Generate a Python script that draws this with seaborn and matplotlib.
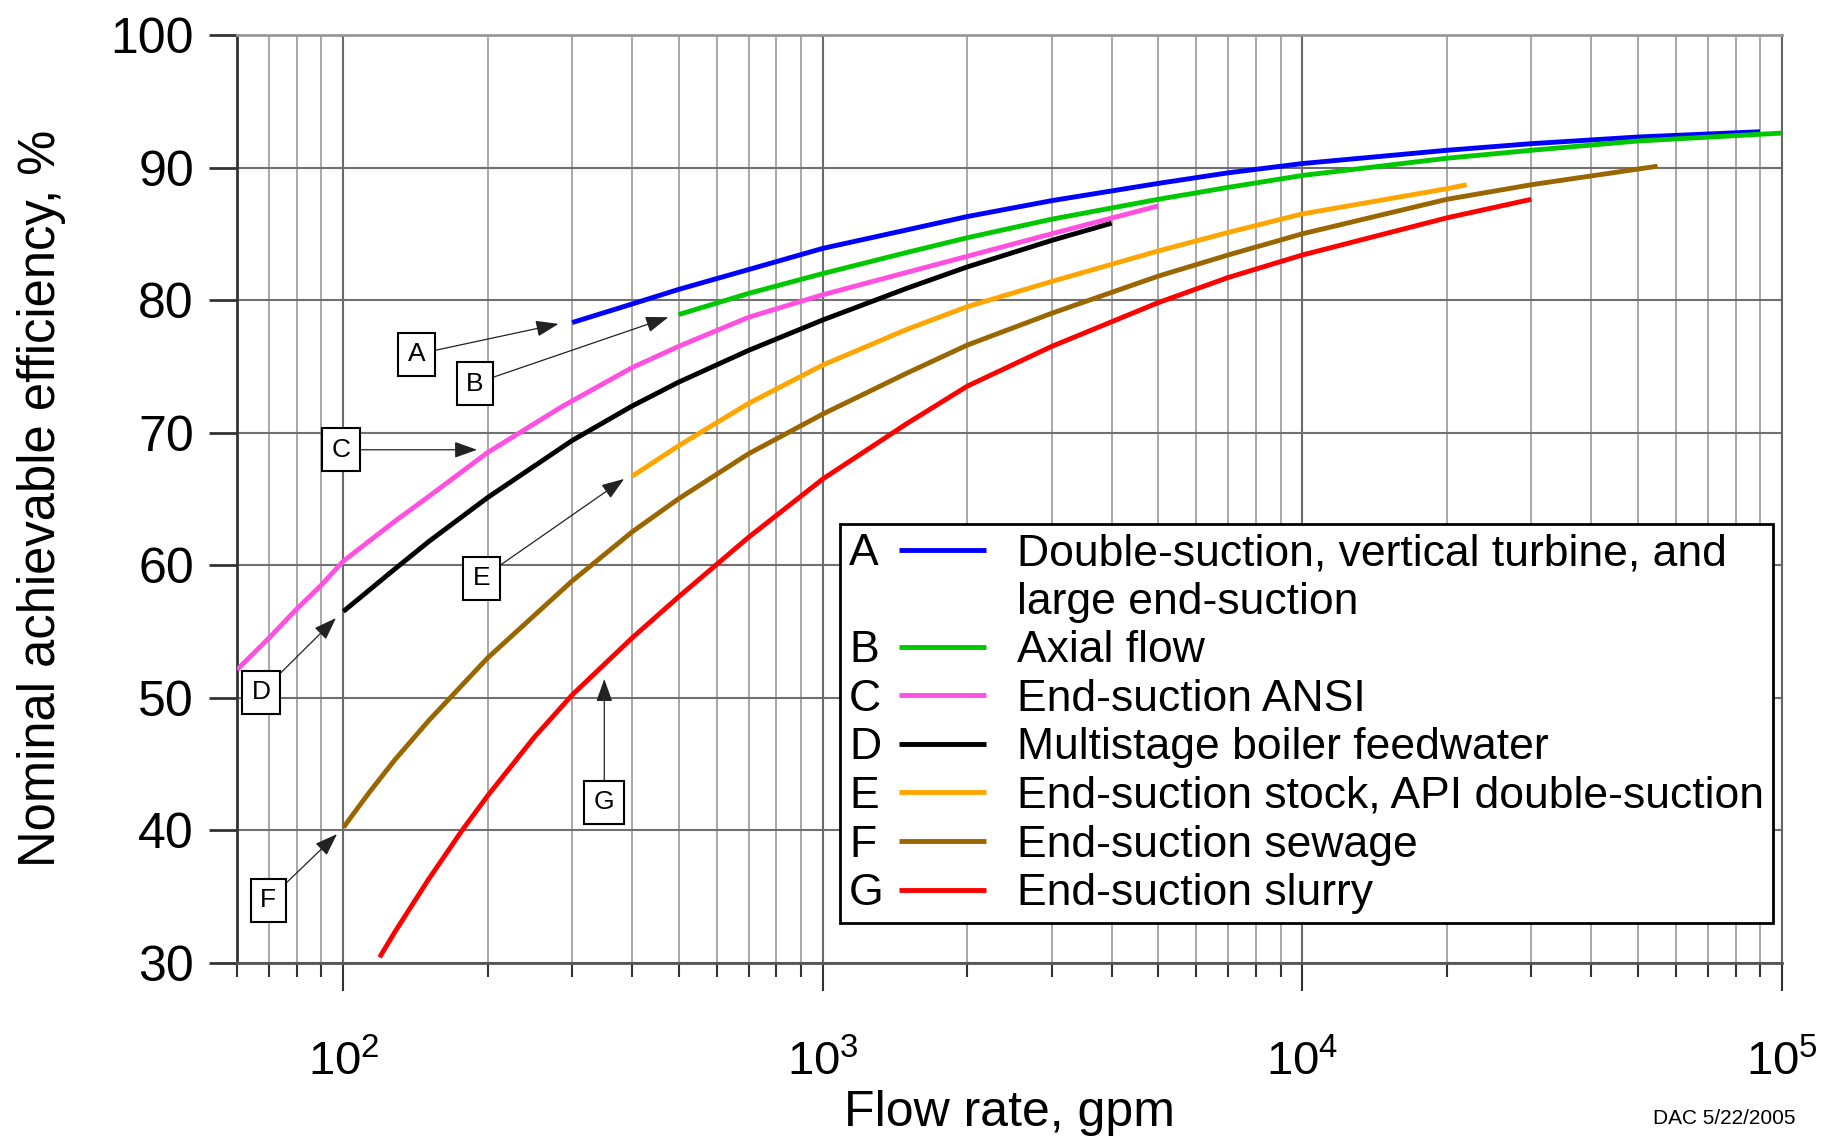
import numpy as np
import pandas as pd
import matplotlib
matplotlib.use('Agg')
import matplotlib.pyplot as plt
import seaborn as sns
from matplotlib.lines import Line2D
from matplotlib.text import Text
from matplotlib.legend_handler import HandlerBase
from matplotlib.ticker import NullFormatter, NullLocator

# curve readings (flow rate in gpm, efficiency in %)
a_flow = [300, 400, 500, 700, 1000, 1500, 2000, 3000, 5000, 7000, 10000, 20000, 30000, 50000, 90000]
a_eff = [78.3, 79.7, 80.8, 82.3, 83.9, 85.3, 86.3, 87.5, 88.8, 89.6, 90.3, 91.3, 91.8, 92.3, 92.7]

b_flow = [500, 700, 1000, 1500, 2000, 3000, 5000, 7000, 10000, 20000, 30000, 50000, 100000]
b_eff = [78.9, 80.5, 82.0, 83.6, 84.7, 86.1, 87.6, 88.5, 89.4, 90.7, 91.3, 92.0, 92.6]

c_flow = [60, 70, 80, 90, 100, 128, 151, 200, 287, 400, 500, 700, 1000, 1500, 2000, 3000, 5000]
c_eff = [52.1, 54.5, 56.7, 58.5, 60.3, 63.3, 65.2, 68.5, 72.0, 74.9, 76.5, 78.7, 80.4, 82.1, 83.3, 85.0, 87.1]

d_flow = [100, 128, 151, 200, 300, 400, 500, 700, 1000, 1500, 2000, 3000, 4000]
d_eff = [56.5, 59.7, 61.8, 65.1, 69.4, 72.0, 73.8, 76.2, 78.5, 80.9, 82.5, 84.5, 85.8]

e_flow = [400, 500, 700, 1000, 1500, 2000, 3000, 5000, 7000, 10000, 20000, 22000]
e_eff = [66.7, 69.0, 72.2, 75.1, 77.8, 79.5, 81.4, 83.7, 85.1, 86.5, 88.4, 88.7]

f_flow = [100, 113, 128, 151, 200, 300, 400, 500, 700, 1000, 1500, 2000, 3000, 5000, 7000,
          10000, 20000, 30000, 55000]
f_eff = [40.2, 42.8, 45.3, 48.3, 53.0, 58.8, 62.5, 65.0, 68.4, 71.4, 74.5, 76.6, 79.0, 81.8, 83.4,
         85.0, 87.6, 88.7, 90.1]

g_flow = [119, 128, 150, 177, 200, 250, 300, 400, 500, 700, 1000, 1500, 2000, 3000, 5000, 7000,
          10000, 20000, 30000]
g_eff = [30.4, 32.3, 36.2, 40.0, 42.6, 47.0, 50.2, 54.5, 57.6, 62.1, 66.5, 70.7, 73.5, 76.5, 79.8,
         81.7, 83.4, 86.2, 87.6]

letters = ['A', 'B', 'C', 'D', 'E', 'F', 'G']
descriptions = ['Double-suction, vertical turbine, and', 'Axial flow', 'End-suction ANSI',
                'Multistage boiler feedwater', 'End-suction stock, API double-suction',
                'End-suction sewage', 'End-suction slurry']
colors = ['#0000ff', '#00c800', '#ff50e0', '#000000', '#ffa500', '#996600', '#ff0000']

# callout boxes: label position and arrow target (flow, efficiency)
box_pos = [(142, 75.9), (188, 73.7), (99, 68.7), (67.4, 50.4), (194, 59.0), (69.7, 34.7), (350, 42.1)]
arrow_tip = [(281, 78.2), (476, 78.7), (190, 68.7), (96.5, 56.0), (385, 66.5), (97, 39.7), (350, 51.4)]

flows = [a_flow, b_flow, c_flow, d_flow, e_flow, f_flow, g_flow]
effs = [a_eff, b_eff, c_eff, d_eff, e_eff, f_eff, g_eff]
df = pd.concat([pd.DataFrame({'flow': f, 'eff': e, 'curve': l})
                for f, e, l in zip(flows, effs, letters)], ignore_index=True)

sns.set_theme(style='white')
plt.rcParams['font.family'] = ['Liberation Sans', 'DejaVu Sans']
plt.rcParams['mathtext.fontset'] = 'custom'
plt.rcParams['mathtext.rm'] = 'Liberation Sans'
plt.rcParams['mathtext.it'] = 'Liberation Sans:italic'
plt.rcParams['mathtext.bf'] = 'Liberation Sans:bold'
plt.rcParams['text.color'] = 'black'
plt.rcParams['axes.labelcolor'] = 'black'

W, H = 1823, 1137
fig = plt.figure(figsize=(W / 100, H / 100), dpi=100)
ax = fig.add_axes([237 / W, 1 - 962.6 / H, (1782 - 237) / W, (962.6 - 35) / H])

sns.lineplot(data=df, x='flow', y='eff', hue='curve', hue_order=letters,
             palette=dict(zip(letters, colors)), estimator=None, lw=3.5,
             legend=False, ax=ax, zorder=3, solid_capstyle='butt')

ax.set_xscale('log')
ax.set_xlim(60, 1e5)
ax.set_ylim(30, 100)
ax.set_yticks(range(30, 101, 10))
ax.yaxis.set_minor_locator(NullLocator())
ax.xaxis.set_minor_formatter(NullFormatter())

ax.set_axisbelow(True)
ax.grid(which='major', axis='y', color='#707070', lw=1.5)
ax.grid(which='major', axis='x', color='#6a6a6a', lw=1.5)
ax.grid(which='minor', axis='x', color='#9a9a9a', lw=1.2)

ax.tick_params(axis='y', which='major', direction='out', length=20, width=2,
               color='#333333', labelcolor='black', labelsize=36, pad=11, left=True)
ax.tick_params(axis='x', which='major', direction='out', length=20, width=1.5,
               color='#333333', labelcolor='black', labelsize=34, pad=61, bottom=True)
ax.tick_params(axis='x', which='minor', direction='out', length=10, width=1.5,
               color='#333333', bottom=True)

for side, col, w in [('left', '#333333', 2.0), ('bottom', '#555555', 2.0),
                     ('top', '#999999', 2.0), ('right', '#666666', 1.5)]:
    ax.spines[side].set_color(col)
    ax.spines[side].set_linewidth(w)
    ax.spines[side].set_visible(True)

ax.set_xlabel('Flow rate, gpm', fontsize=36)
ax.set_ylabel('Nominal achievable efficiency, %', fontsize=36.5)
ax.xaxis.set_label_coords(0.5, -0.137)
ax.yaxis.set_label_coords(-0.111, 0.5)

# callout boxes with arrows
for lab, pos, tip in zip(letters, box_pos, arrow_tip):
    ax.annotate(lab, xy=tip, xytext=pos, fontsize=19, ha='center', va='center', zorder=5,
                bbox=dict(boxstyle='square,pad=0.36', fc='white', ec='black', lw=1.5),
                arrowprops=dict(arrowstyle='-|>,head_length=0.7,head_width=0.25',
                                color='#222222', lw=0.9, mutation_scale=20,
                                shrinkA=0, shrinkB=0))


class LetterLine(HandlerBase):
    def __init__(self, letter):
        super().__init__()
        self.letter = letter

    def create_artists(self, legend, orig_handle, xdescent, ydescent,
                       width, height, fontsize, trans):
        y = height / 2 - ydescent
        t = Text(-xdescent, -ydescent, self.letter, fontsize=fontsize,
                 ha='left', va='baseline', color='black')
        t.set_transform(trans)
        ln = Line2D([-xdescent + 0.36 * width, -xdescent + width], [y, y],
                    color=orig_handle.get_color(), lw=orig_handle.get_linewidth(),
                    solid_capstyle='butt')
        ln.set_transform(trans)
        return [t, ln]


curve_lines = ax.get_lines()[:len(letters)]
blank = Line2D([], [], color='none')
handles = [curve_lines[0], blank] + list(curve_lines[1:])
labels = [descriptions[0], 'large end-suction'] + descriptions[1:]
hmap = {h: LetterLine(l) for h, l in zip(curve_lines, letters)}
hmap[blank] = LetterLine('')

leg = ax.legend(handles, labels, handler_map=hmap, loc='lower right',
                bbox_to_anchor=(0.9942, 0.0427), borderaxespad=0, fontsize=32,
                handlelength=3.09, handletextpad=0.69, labelspacing=0.17,
                borderpad=0.2, fancybox=False, framealpha=1, shadow=False)
leg.get_frame().set_edgecolor('black')
leg.get_frame().set_linewidth(2)
leg.set_zorder(6)

fig.text(0.985, 0.008, 'DAC 5/22/2005', ha='right', va='bottom', fontsize=15)

# put the decade labels on their baseline so the superscript does not move them
fig.canvas.draw()
for lab in ax.get_xticklabels(which='major'):
    lab.set_verticalalignment('baseline')

fig.savefig('out.png', dpi=100)
